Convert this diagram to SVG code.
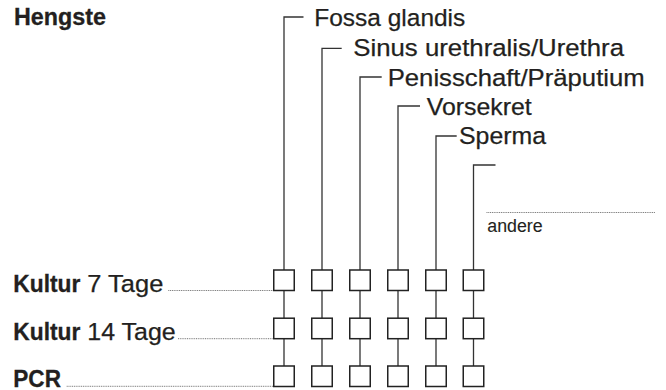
<svg xmlns="http://www.w3.org/2000/svg" width="666" height="390" viewBox="0 0 666 390">
<style>
.t{font-family:"Liberation Sans",Arial,sans-serif;font-size:24.3px;fill:#231f20;stroke:#231f20;stroke-width:0.25}
.b{font-weight:bold;font-size:23.5px;stroke-width:0.3}
.s{font-size:17.5px;stroke-width:0.1}
.ln{stroke:#333;stroke-width:1.3;fill:none}
.dot{stroke:#666;stroke-width:0.9;stroke-dasharray:1 0.8;fill:none}
.box{fill:#fff;stroke:#222;stroke-width:1.5}
</style>
<rect width="666" height="390" fill="#fff"/>
<g id="connectors">
<path class="ln" d="M284,366V17H303.5"/>
<path class="ln" d="M322,366V48.3H341.7"/>
<path class="ln" d="M360,366V77H381.7"/>
<path class="ln" d="M398,366V106H420"/>
<path class="ln" d="M436,366V136H456.7"/>
<path class="ln" d="M473.5,366V165H495.5"/>
<path class="dot" d="M168.3,290.5H273"/>
<path class="dot" d="M178,338.7H273"/>
<path class="dot" d="M66.7,386.3H273"/>
<path class="dot" d="M486.5,212.5H655"/>
</g>
<g id="title"><text class="t b" x="14" y="25" textLength="92" lengthAdjust="spacingAndGlyphs">Hengste</text></g>
<g id="label-fossa"><text class="t" x="314.3" y="25.7" textLength="151" lengthAdjust="spacingAndGlyphs">Fossa glandis</text></g>
<g id="label-sinus"><text class="t" x="353.3" y="55.5" textLength="270.7" lengthAdjust="spacingAndGlyphs">Sinus urethralis/Urethra</text></g>
<g id="label-penis"><text class="t" x="387.7" y="86" textLength="257" lengthAdjust="spacingAndGlyphs">Penisschaft/Präputium</text></g>
<g id="label-vorsekret"><text class="t" x="426.7" y="114.5" textLength="105" lengthAdjust="spacingAndGlyphs">Vorsekret</text></g>
<g id="label-sperma"><text class="t" x="459" y="143.5" textLength="87" lengthAdjust="spacingAndGlyphs">Sperma</text></g>
<g id="label-andere"><text class="t s" x="487.3" y="231.5" textLength="55.4" lengthAdjust="spacingAndGlyphs">andere</text></g>
<g id="row-kultur7">
<text class="t b" x="13.3" y="291.5" textLength="67" lengthAdjust="spacingAndGlyphs">Kultur</text>
<text class="t" x="87.3" y="291.5" textLength="76" lengthAdjust="spacingAndGlyphs">7 Tage</text>
</g>
<g id="row-kultur14">
<text class="t b" x="13.3" y="339.8" textLength="67" lengthAdjust="spacingAndGlyphs">Kultur</text>
<text class="t" x="87.3" y="339.8" textLength="88.4" lengthAdjust="spacingAndGlyphs">14 Tage</text>
</g>
<g id="row-pcr"><text class="t b" x="13.3" y="386.5" textLength="47.7" lengthAdjust="spacingAndGlyphs">PCR</text></g>
<g id="boxes">
<g id="boxes-row1">
<rect class="box" x="273.75" y="270" width="20.5" height="20.5"/>
<rect class="box" x="311.75" y="270" width="20.5" height="20.5"/>
<rect class="box" x="349.75" y="270" width="20.5" height="20.5"/>
<rect class="box" x="387.75" y="270" width="20.5" height="20.5"/>
<rect class="box" x="425.75" y="270" width="20.5" height="20.5"/>
<rect class="box" x="463.25" y="270" width="20.5" height="20.5"/>
</g>
<g id="boxes-row2">
<rect class="box" x="273.75" y="318.2" width="20.5" height="20.5"/>
<rect class="box" x="311.75" y="318.2" width="20.5" height="20.5"/>
<rect class="box" x="349.75" y="318.2" width="20.5" height="20.5"/>
<rect class="box" x="387.75" y="318.2" width="20.5" height="20.5"/>
<rect class="box" x="425.75" y="318.2" width="20.5" height="20.5"/>
<rect class="box" x="463.25" y="318.2" width="20.5" height="20.5"/>
</g>
<g id="boxes-row3">
<rect class="box" x="273.75" y="366" width="20.5" height="20.5"/>
<rect class="box" x="311.75" y="366" width="20.5" height="20.5"/>
<rect class="box" x="349.75" y="366" width="20.5" height="20.5"/>
<rect class="box" x="387.75" y="366" width="20.5" height="20.5"/>
<rect class="box" x="425.75" y="366" width="20.5" height="20.5"/>
<rect class="box" x="463.25" y="366" width="20.5" height="20.5"/>
</g>
</g>
</svg>
